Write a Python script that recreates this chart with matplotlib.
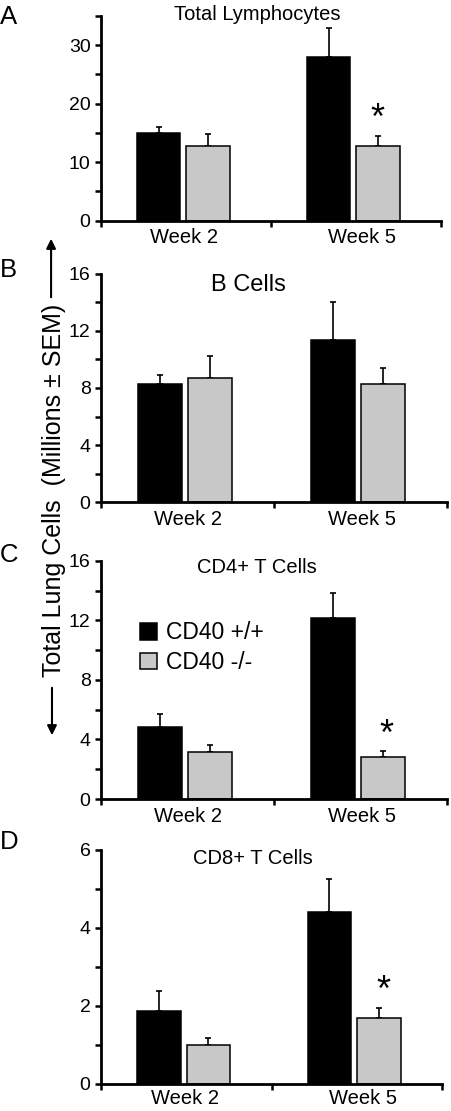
import matplotlib
matplotlib.use('Agg')
import matplotlib.pyplot as plt
import numpy as np

plt.rcParams['font.family'] = ['Liberation Sans', 'DejaVu Sans']

weeks = ['Week 2', 'Week 5']
groups = ['CD40 +/+', 'CD40 -/-']
colors = ['black', '#c8c8c8']

titles = ['Total Lymphocytes', 'B Cells', 'CD4+ T Cells', 'CD8+ T Cells']
panel_letters = ['A', 'B', 'C', 'D']

# means [CD40+/+, CD40-/-] per week, and upper error bar tops (mean + SEM)
lymph_mean = [[14.9, 12.75], [28.0, 12.8]]
lymph_top = [[16.0, 14.8], [32.9, 14.5]]
bcell_mean = [[8.3, 8.7], [11.35, 8.25]]
bcell_top = [[8.9, 10.2], [14.0, 9.4]]
cd4_mean = [[4.85, 3.13], [12.15, 2.85]]
cd4_top = [[5.7, 3.6], [13.8, 3.2]]
cd8_mean = [[1.88, 1.0], [4.4, 1.68]]
cd8_top = [[2.38, 1.18], [5.26, 1.94]]

means = [lymph_mean, bcell_mean, cd4_mean, cd8_mean]
tops = [lymph_top, bcell_top, cd4_top, cd8_top]
ylims = [35, 16, 16, 6]
major_ticks = [[0, 10, 20, 30], [0, 4, 8, 12, 16], [0, 4, 8, 12, 16], [0, 2, 4, 6]]
minor_ticks = [[5, 15, 25, 35], [2, 6, 10, 14], [2, 6, 10, 14], [1, 3, 5]]
# significance stars: (x, baseline y) in data coords
stars = [(1.625, 15.7), None, (1.65, 3.65), (1.655, 2.13)]
title_pos = [(0.918, 34.3), (0.85, 14.8), (0.90, 15.15), (0.89, 5.64)]
title_size = [14.5, 17, 14.5, 14.5]
week_pos = [[0.49, 1.535], [0.505, 1.51], [0.505, 1.51], [0.49, 1.535]]
week_pad = [5.5, 5.5, 5.5, 3.5]

# axes boxes [left, bottom, width, height] in figure fraction
boxes = [[0.2235, 0.8013, 0.752, 0.1845],
         [0.2235, 0.5479, 0.7655, 0.2059],
         [0.2235, 0.2808, 0.7655, 0.2145],
         [0.2235, 0.0245, 0.7544, 0.2105]]
letter_y = [17, 270, 555, 842]

fig = plt.figure(figsize=(4.52, 11.11), dpi=100)

width = 0.255
offsets = [-0.145, 0.145]
centers = np.array([0.485, 1.485])

for p in range(4):
    ax = fig.add_axes(boxes[p])
    m = np.array(means[p])
    t = np.array(tops[p])
    for g in range(2):
        x = centers + offsets[g]
        ax.bar(x, m[:, g], width=width, color=colors[g], edgecolor='black',
               linewidth=1.1, zorder=2, label=groups[g])
        err = np.vstack([np.zeros(2), t[:, g] - m[:, g]])
        ax.errorbar(x, m[:, g], yerr=err, fmt='none', ecolor='black',
                    elinewidth=1.2, capsize=2.2, capthick=1.2, zorder=1)
    ax.set_xlim(0, 2)
    ax.set_ylim(0, ylims[p])
    for s in ['top', 'right']:
        ax.spines[s].set_visible(False)
    for s in ['left', 'bottom']:
        ax.spines[s].set_linewidth(2.0)
    ax.set_yticks(major_ticks[p])
    ax.set_yticks(minor_ticks[p], minor=True)
    ax.tick_params(axis='y', which='both', direction='out', length=4.5,
                   width=1.8, labelsize=14, pad=3)
    ax.set_xticks([0, 1, 2])
    ax.set_xticklabels([])
    ax.set_xticks(week_pos[p], minor=True)
    ax.set_xticklabels(weeks, minor=True)
    ax.tick_params(axis='x', which='major', direction='out', length=4, width=1.8)
    ax.tick_params(axis='x', which='minor', length=0, labelsize=14.5,
                   pad=week_pad[p])
    ax.text(title_pos[p][0], title_pos[p][1], titles[p], ha='center',
            va='baseline', fontsize=title_size[p])
    if stars[p] is not None:
        ax.text(stars[p][0], stars[p][1], '*', ha='center', va='baseline',
                fontsize=26)
    fig.text(0.0, 1 - letter_y[p] / 1111, panel_letters[p], ha='left',
             va='center', fontsize=18.5)
    if p == 2:
        ax.legend(loc='upper left', bbox_to_anchor=(0.085, 0.785), frameon=False,
                  fontsize=16.5, handlelength=0.75, handleheight=0.75,
                  handletextpad=0.4, labelspacing=0.3, borderaxespad=0)

# shared y label with arrows
fig.text(0.119, 1 - 490 / 1111, 'Total Lung Cells  (Millions \u00b1 SEM)',
         rotation=90, ha='center', va='center', fontsize=18)
fig.add_artist(matplotlib.patches.FancyArrowPatch(
    (0.113, 1 - 300 / 1111), (0.113, 1 - 236 / 1111), transform=fig.transFigure,
    arrowstyle='-|>', mutation_scale=14, color='black', linewidth=1.5))
fig.add_artist(matplotlib.patches.FancyArrowPatch(
    (0.115, 1 - 685 / 1111), (0.115, 1 - 738 / 1111), transform=fig.transFigure,
    arrowstyle='-|>', mutation_scale=14, color='black', linewidth=1.5))

fig.savefig('out.png', dpi=100)
